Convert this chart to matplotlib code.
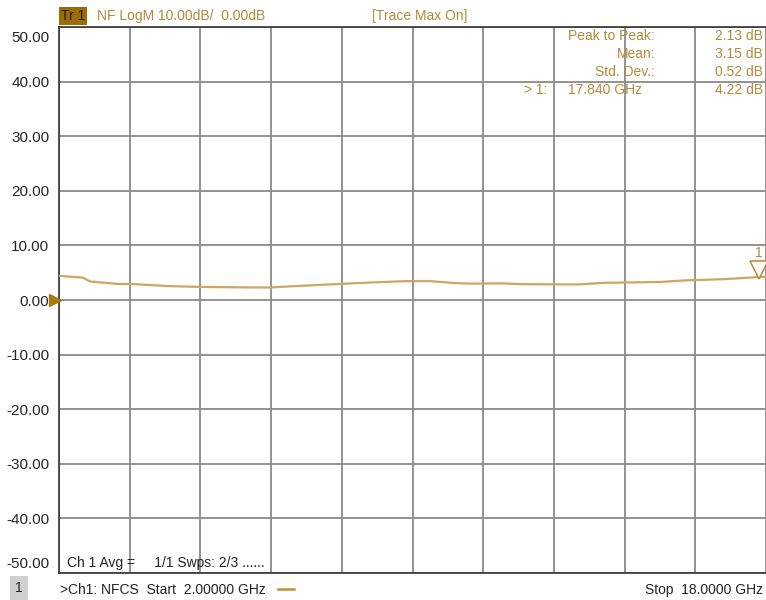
import matplotlib
matplotlib.use("Agg")
from matplotlib import pyplot as plt
from matplotlib.transforms import ScaledTranslation

plt.rcParams['font.family'] = ['Liberation Sans', 'DejaVu Sans']

# noise figure trace (GHz, dB)
freq_ghz = [2.0, 2.54, 2.70, 3.31, 3.72, 4.47, 5.19, 6.32, 6.78, 7.0, 8.13, 9.04,
            9.83, 10.40, 10.97, 11.30, 11.98, 12.48, 13.73, 14.36, 15.61, 16.17,
            17.01, 17.80, 18.0]
nf_db = [4.42, 4.1, 3.4, 2.95, 2.9, 2.55, 2.4, 2.3, 2.29, 2.4, 2.85, 3.2,
         3.45, 3.45, 3.1, 3.0, 3.05, 2.9, 2.85, 3.15, 3.3, 3.6,
         3.8, 4.18, 4.25]

marker_freq = 17.840
marker_db = 4.22
stat_names = ["Peak to Peak:", "Mean:", "Std. Dev.:"]
stat_values = ["2.13 dB", "3.15 dB", "0.52 dB"]

y_ticks = [50, 40, 30, 20, 10, 0, -10, -20, -30, -40, -50]

gold = "#B38A3C"
trace_col = "#CDA661"
grid_col = "#8A8A8A"

fig = plt.figure(figsize=(7.66, 6.0), dpi=100)
ax = fig.add_axes([59 / 766, 27 / 600, 707 / 766, 546 / 600])

ax.set_xlim(2, 18)
ax.set_ylim(-50, 50)
ax.set_xticks([2 + 1.6 * i for i in range(11)])
ax.set_xticklabels([])
ax.set_yticks(y_ticks)
ax.set_yticklabels(["%.2f" % v for v in y_ticks], fontsize=11, color="#262626")
ax.tick_params(length=0, axis='y', pad=7)
ax.tick_params(length=0, axis='x')
ax.grid(True, color=grid_col, linewidth=1.3)
for s in ["left", "top", "bottom"]:
    ax.spines[s].set_color("#333333")
    ax.spines[s].set_linewidth(1.2)
ax.spines["right"].set_visible(False)

# shift end labels inside the grid
labels = ax.get_yticklabels()
labels[0].set_transform(labels[0].get_transform() + ScaledTranslation(0, -9 / 100, fig.dpi_scale_trans))
labels[-1].set_transform(labels[-1].get_transform() + ScaledTranslation(0, 10 / 100, fig.dpi_scale_trans))

ax.plot(freq_ghz, nf_db, color=trace_col, linewidth=1.6, zorder=3)

# marker 1
ax.plot(marker_freq, marker_db, marker="v", markersize=13, markerfacecolor="white",
        markeredgecolor=gold, markeredgewidth=1.1, clip_on=False, zorder=4,
        transform=ax.transData + ScaledTranslation(0, 7 / 100, fig.dpi_scale_trans))
ax.text(marker_freq, marker_db, "1", color=gold, fontsize=10, ha="center", va="bottom",
        transform=ax.transData + ScaledTranslation(0, 17 / 100, fig.dpi_scale_trans))

# reference level arrow
ax.plot(2, 0, marker=">", markersize=8, color="#A87A10", clip_on=False, zorder=5,
        transform=ax.transData + ScaledTranslation(-4 / 100, 0, fig.dpi_scale_trans))

# header
fig.text(61 / 766, 1 - 16 / 600, "Tr 1", fontsize=10, color="#2A1E00", va="center",
         bbox=dict(boxstyle="square,pad=0.12", facecolor="#9C6C00", edgecolor="none"))
fig.text(97 / 766, 1 - 16 / 600, "NF LogM 10.00dB/  0.00dB", fontsize=10, color=gold, va="center")
fig.text(372 / 766, 1 - 16 / 600, "[Trace Max On]", fontsize=10, color=gold, va="center")

# statistics block
rows_y = [36, 54, 72]
for name, val, yy in zip(stat_names, stat_values, rows_y):
    fig.text(655 / 766, 1 - yy / 600, name, fontsize=10, color=gold, ha="right", va="center")
    fig.text(763 / 766, 1 - yy / 600, val, fontsize=10, color=gold, ha="right", va="center")
fig.text(547 / 766, 1 - 90 / 600, "> 1:", fontsize=10, color=gold, ha="right", va="center")
fig.text(568 / 766, 1 - 90 / 600, "%.3f GHz" % marker_freq, fontsize=10, color=gold, va="center")
fig.text(763 / 766, 1 - 90 / 600, "%.2f dB" % marker_db, fontsize=10, color=gold, ha="right", va="center")

# averaging status
fig.text(67 / 766, 1 - 563 / 600, "Ch 1 Avg =     1/1 Swps: 2/3 ......", fontsize=10,
         color="#222222", va="center")

# footer
fig.text(19 / 766, 1 - 588 / 600, "1", fontsize=10, color="#222222", ha="center", va="center",
         bbox=dict(boxstyle="square,pad=0.35", facecolor="#D0D0D0", edgecolor="none"))
fig.text(60 / 766, 1 - 590 / 600, ">Ch1: NFCS  Start  2.00000 GHz", fontsize=10,
         color="#222222", va="center")
fig.lines.append(plt.Line2D([278 / 766, 294 / 766], [1 - 589 / 600, 1 - 589 / 600],
                            transform=fig.transFigure, color="#C09030", linewidth=1.8))
fig.text(763 / 766, 1 - 590 / 600, "Stop  18.0000 GHz", fontsize=10, color="#222222",
         ha="right", va="center")

fig.savefig("out.png", dpi=100)
